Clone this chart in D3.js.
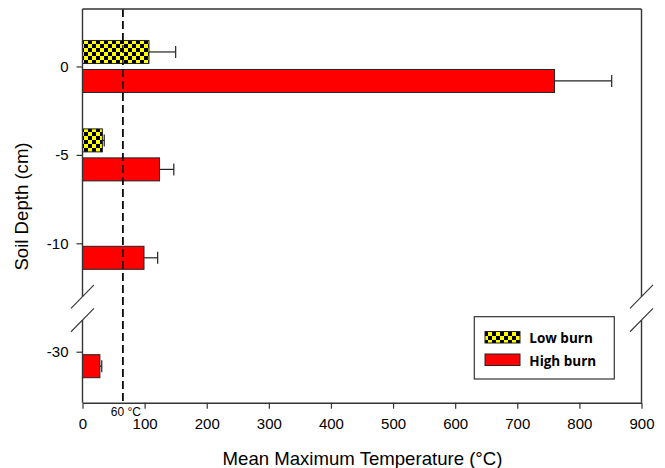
<!DOCTYPE html>
<html>
<head>
<meta charset="utf-8">
<script src="https://cdn.jsdelivr.net/npm/d3@7"></script>
<style>
  body { margin: 0; background: #fff; }
  svg { display: block; }
  text { font-family: "Liberation Sans", Arial, sans-serif; fill: #000; }
</style>
</head>
<body>
<svg id="chart" width="665" height="468"></svg>
<script>
// ---- data ----
const depths = [0, -5, -10, -30];
const depthLabels = ["0", "-5", "-10", "-30"];
const series = ["Low burn", "High burn"];
const lowBurn = [107, 32, null, null];
const lowBurnErr = [43, 3, null, null];
const highBurn = [760, 124, 99, 28];
const highBurnErr = [92, 23, 22, 3];
const xTicks = [0, 100, 200, 300, 400, 500, 600, 700, 800, 900];
const thresholdValue = 65;
const thresholdLabel = "60 °C";
const breakDepth = -22;
const xTitle = "Mean Maximum Temperature (°C)";
const yTitle = "Soil Depth (cm)";

// ---- layout ----
const svg = d3.select("#chart");
const L = 82.5, R = 641.5, T = 9, B = 402.7;

const x = d3.scaleLinear().domain([0, 900]).range([L, R]);
// broken y axis: piecewise linear with compressed gap between -10 and -30
const y = d3.scaleLinear().domain([3.25, -10, -30, -32.9]).range([T, 243.3, 351.7, B]);
const band = d3.scaleBand().domain(series).range([-26, 26]).paddingInner(0.207);

const defs = svg.append("defs");
const pat = defs.append("pattern").attr("id", "checker")
  .attr("width", 8).attr("height", 8).attr("patternUnits", "userSpaceOnUse");
pat.append("rect").attr("width", 8).attr("height", 8).attr("fill", "#ffff00");
pat.append("rect").attr("width", 4).attr("height", 4).attr("fill", "#000");
pat.append("rect").attr("x", 4).attr("y", 4).attr("width", 4).attr("height", 4).attr("fill", "#000");

const fills = { "Low burn": "url(#checker)", "High burn": "#ff0000" };

// data rows
const rows = [];
depths.forEach((d, i) => {
  if (lowBurn[i] != null) rows.push({ depth: d, s: "Low burn", v: lowBurn[i], e: lowBurnErr[i] });
  if (highBurn[i] != null) rows.push({ depth: d, s: "High burn", v: highBurn[i], e: highBurnErr[i] });
});

// threshold dashed line
svg.append("line")
  .attr("x1", x(thresholdValue)).attr("x2", x(thresholdValue))
  .attr("y1", T).attr("y2", B)
  .attr("stroke", "#000").attr("stroke-width", 1.3).attr("stroke-dasharray", "8,4");

// error bars
const eg = svg.append("g").attr("stroke", "#222").attr("stroke-width", 1.2);
rows.forEach(r => {
  const cy = y(r.depth) + band(r.s) + band.bandwidth() / 2;
  eg.append("line").attr("x1", x(r.v)).attr("x2", x(r.v + r.e)).attr("y1", cy).attr("y2", cy);
  eg.append("line").attr("x1", x(r.v + r.e)).attr("x2", x(r.v + r.e)).attr("y1", cy - 6).attr("y2", cy + 6);
});

// bars
svg.append("g").selectAll("rect").data(rows).join("rect")
  .attr("x", x(0))
  .attr("y", d => y(d.depth) + band(d.s))
  .attr("width", d => x(d.v) - x(0))
  .attr("height", band.bandwidth())
  .attr("fill", d => fills[d.s])
  .attr("stroke", "#222").attr("stroke-width", 1);

// redraw dashed line over bars (it is visible on top of bars in reference)
svg.append("line")
  .attr("x1", x(thresholdValue)).attr("x2", x(thresholdValue))
  .attr("y1", T).attr("y2", B)
  .attr("stroke", "#000").attr("stroke-width", 1.3).attr("stroke-dasharray", "8,4");

// x axis
const xAxis = svg.append("g").attr("transform", `translate(0,${B})`)
  .call(d3.axisBottom(x).tickValues(xTicks).tickSizeInner(6).tickSizeOuter(0).tickPadding(10));
xAxis.select(".domain").attr("stroke", "#333").attr("stroke-width", 1.4);
xAxis.selectAll(".tick line").attr("stroke", "#333").attr("stroke-width", 1.2);
xAxis.selectAll("text").style("font-size", "15px").style("font-family", "Liberation Sans, Arial, sans-serif");

// y axis ticks/labels (domain drawn manually with break)
const yAxis = svg.append("g").attr("transform", `translate(${L},0)`)
  .call(d3.axisLeft(y).tickValues(depths).tickFormat((d, i) => depthLabels[i]).tickSizeInner(6).tickSizeOuter(0).tickPadding(8));
yAxis.select(".domain").remove();
yAxis.selectAll(".tick line").attr("stroke", "#333").attr("stroke-width", 1.2);
yAxis.selectAll("text").style("font-size", "15px").style("font-family", "Liberation Sans, Arial, sans-serif");

// frame with breaks
const yb = y(breakDepth), gap = 11.7;
const frame = svg.append("g").attr("stroke", "#333").attr("stroke-width", 1.4).attr("fill", "none");
frame.append("line").attr("x1", L).attr("x2", R).attr("y1", T).attr("y2", T);
[L, R].forEach(xx => {
  frame.append("line").attr("x1", xx).attr("x2", xx).attr("y1", T).attr("y2", yb - gap);
  frame.append("line").attr("x1", xx).attr("x2", xx).attr("y1", yb + gap).attr("y2", B);
  [-gap, gap].forEach(o => {
    frame.append("line")
      .attr("x1", xx - 11.5).attr("y1", yb + o + 11.7)
      .attr("x2", xx + 11.5).attr("y2", yb + o - 11.7)
      .attr("stroke-width", 1.1);
  });
});

// threshold label
svg.append("text").attr("x", x(thresholdValue) + 3).attr("y", 415.5)
  .attr("text-anchor", "middle").style("font-size", "12px").text(thresholdLabel);

// axis titles
svg.append("text").attr("x", (L + R) / 2 + 0.5).attr("y", 464.5)
  .attr("text-anchor", "middle").style("font-size", "18.6px").text(xTitle);
svg.append("text").attr("transform", `translate(28,206.5) rotate(-90)`)
  .attr("text-anchor", "middle").style("font-size", "18.6px").text(yTitle);

// legend
const lg = svg.append("g");
lg.append("rect").attr("x", 474.3).attr("y", 316.7).attr("width", 140).attr("height", 62.3)
  .attr("fill", "#fff").attr("stroke", "#333").attr("stroke-width", 1.2);
series.forEach((s, i) => {
  const yy = 331.5 + i * 22.5;
  lg.append("rect").attr("x", 485).attr("y", yy).attr("width", 35).attr("height", 11.5)
    .attr("fill", fills[s]).attr("stroke", "#222").attr("stroke-width", 1);
  lg.append("text").attr("x", 529.3).attr("y", yy + 11.5)
    .style("font-family", "'Open Sans', sans-serif").style("font-weight", "700").style("font-size", "13.5px")
    .text(s);
});
</script>
</body>
</html>
